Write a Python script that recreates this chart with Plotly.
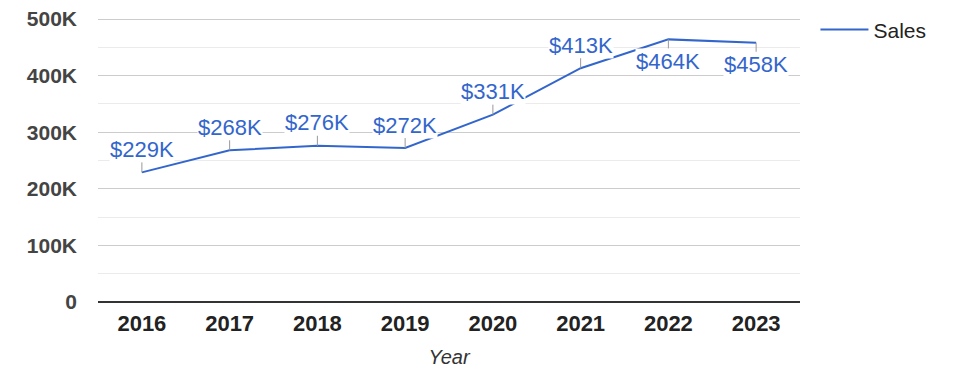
import plotly.graph_objects as go

years = ["2016", "2017", "2018", "2019", "2020", "2021", "2022", "2023"]
sales = [229000, 268000, 276000, 272000, 331000, 413000, 464000, 458000]
labels = ["$229K", "$268K", "$276K", "$272K", "$331K", "$413K", "$464K", "$458K"]
label_side = ["above", "above", "above", "above", "above", "above", "below", "below"]
y_ticks = [0, 100000, 200000, 300000, 400000, 500000]
y_tick_text = ["0", "100K", "200K", "300K", "400K", "500K"]

LINE = "#3366CC"
FONT = "Arial, Liberation Sans, sans-serif"

fig = go.Figure()
fig.add_trace(go.Scatter(
    x=years, y=sales, mode="lines", name="Sales",
    line=dict(color=LINE, width=2),
    hoverinfo="skip",
))

for i, (yv, t, side) in enumerate(zip(sales, labels, label_side)):
    fig.add_annotation(
        x=i, y=yv, xref="x", yref="y", text=t, showarrow=True,
        ax=0, ay=-23 if side == "above" else 22,
        arrowhead=0, arrowwidth=1, arrowcolor="#999999",
        standoff=0,
        font=dict(family=FONT, size=22, color=LINE),
        bgcolor="white", borderpad=0,
    )

# page body has an 8px margin, so the figure is sized to fit the window
fig.update_layout(
    width=967, height=370,
    margin=dict(l=90, r=175, t=9, b=76, autoexpand=False),
    paper_bgcolor="white", plot_bgcolor="white",
    font=dict(family=FONT),
    showlegend=True,
    legend=dict(
        x=1.022, xanchor="left", y=0.955, yanchor="middle",
        font=dict(family=FONT, size=21, color="#222222"),
        bgcolor="rgba(0,0,0,0)", itemwidth=48,
    ),
    xaxis=dict(
        type="category", range=[-0.5, 7.5],
        showgrid=False, showline=False, zeroline=False,
        tickfont=dict(family=FONT, size=22, color="#222222", weight="bold"),
        ticklabelstandoff=6,
        title=dict(text="Year", standoff=14,
                   font=dict(family=FONT, size=20, color="#333333", style="italic")),
    ),
    yaxis=dict(
        range=[0, 503534],
        tickvals=y_ticks, ticktext=y_tick_text,
        ticklabeloverflow="allow",
        showgrid=True, gridcolor="#cccccc", gridwidth=1,
        minor=dict(dtick=50000, showgrid=True, gridcolor="#ebebeb", gridwidth=1),
        zeroline=True, zerolinecolor="#333333", zerolinewidth=1.5,
        showline=False,
        tickfont=dict(family=FONT, size=21, color="#444444", weight="bold"),
        ticklabelstandoff=20,
    ),
)

fig.write_html("out.html")
